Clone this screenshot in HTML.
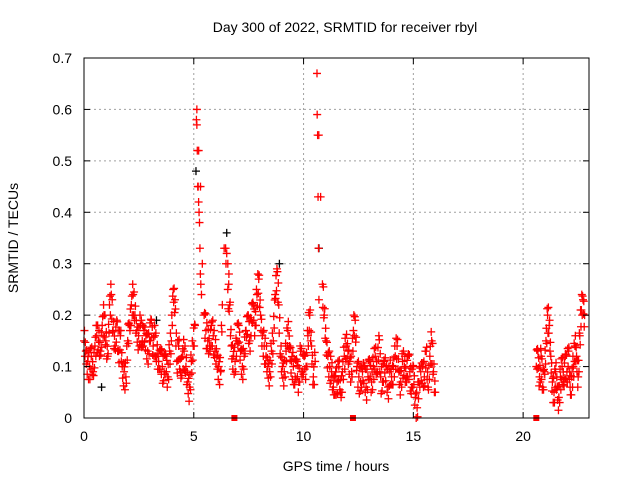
<!DOCTYPE html>
<html><head><meta charset="utf-8"><style>
body{margin:0;background:#fff;font-family:"Liberation Sans",sans-serif}
svg text{font-family:"Liberation Sans",sans-serif;font-size:14px;fill:#000}
</style></head><body>
<svg width="640" height="480">
<text x="345" y="32" text-anchor="middle">Day 300 of 2022, SRMTID for receiver rbyl</text>
<text transform="translate(18,238) rotate(-90)" text-anchor="middle">SRMTID / TECUs</text>
<text x="336" y="471" text-anchor="middle">GPS time / hours</text>
<g id="grid"></g><g id="marks"></g><g id="axes"></g>
</svg>
<script>
const xTicks=[0,5,10,15,20];
const yTicks=[0,0.1,0.2,0.3,0.4,0.5,0.6,0.7];
const seg1Range=[0,16];
const seg1Values=[0.15,0.13,0.11,0.10,0.12,0.09,0.14,
0.16,0.15,0.13,0.18,0.20,0.15,0.12,0.22,0.24,0.17,0.14,0.19,
0.13,0.16,0.10,0.09,0.08,0.15,0.18,0.22,0.24,0.20,0.17,0.16,
0.18,0.15,0.17,0.16,0.13,0.15,0.19,0.14,0.16,0.12,0.11,0.13,
0.10,0.09,0.12,0.08,0.13,0.15,0.25,0.23,0.11,0.14,0.09,0.12,
0.13,0.10,0.07,0.06,0.11,0.14,
0.18,0.60,0.52,0.45,0.30,
0.20,0.17,0.15,0.14,0.18,0.16,0.13,0.12,
0.10,0.09,0.22,0.33,0.30,0.25,0.22,
0.14,0.12,0.11,0.15,0.18,0.13,0.10,0.12,0.17,0.20,0.15,
0.19,0.22,0.18,0.24,0.27,0.20,0.16,0.14,0.12,0.10,0.09,0.13,
0.15,0.24,0.29,0.22,0.12,0.10,0.09,0.13,0.17,0.14,0.11,0.10,
0.08,0.11,0.07,0.13,0.09,0.12,0.10,0.16,0.20,0.14,0.08,0.11,
0.67,0.55,0.43,0.26,0.20,0.15,
0.12,0.10,0.09,0.06,0.08,0.07,0.10,0.05,0.09,0.12,0.14,0.13,
0.11,0.09,0.17,0.19,0.10,0.08,0.07,0.09,0.10,0.06,0.08,0.11,
0.07,0.10,0.12,0.09,0.16,0.08,0.07,0.11,0.10,0.06,0.09,0.08,
0.10,0.12,0.14,0.09,0.07,0.11,0.10,0.08,0.12,0.09,0.06,0.10,
0.04,0.02,0.07,0.09,0.10,0.08,0.13,0.06,0.12,0.15,0.09,0.05];
const seg2Range=[20.6,22.8];
const seg2Values=[0.10,0.13,0.08,0.12,0.06,0.09,0.15,0.20,0.18,0.12,0.07,0.05,0.09,0.06,0.04,0.08,0.10,0.07,0.12,0.09,0.13,0.06,0.08,0.10,0.14,0.12,0.08,0.16,0.21,0.23,0.20];
const spikeTimes=[5.12,5.14,5.16,5.18,5.2,5.22,5.24,5.26,5.28,5.3,5.32,5.35,6.45,6.5,6.55,6.6,10.62,10.64,10.66,10.68,10.7];
const spikeValues=[0.58,0.57,0.52,0.45,0.45,0.42,0.40,0.38,0.33,0.28,0.26,0.24,0.33,0.32,0.30,0.28,0.59,0.55,0.43,0.33,0.23];
const blackTimes=[5.1,6.5,10.7,8.9,3.3,0.8];
const blackValues=[0.48,0.36,0.33,0.30,0.19,0.06];
const gapTimes=[6.85,12.25,20.6];

const L=84,R=589,T=58,B=418,XMAX=23,YMAX=0.7;
const X=t=>L+(R-L)*t/XMAX, Y=v=>B-(B-T)*v/YMAX;
const spread=[0.025,-0.02,0.012,-0.03];
const NS="http://www.w3.org/2000/svg";
const mk=(tag,a,p)=>{const e=document.createElementNS(NS,tag);for(const k in a)e.setAttribute(k,a[k]);p.appendChild(e);return e;};
const grid=document.getElementById('grid'),marks=document.getElementById('marks'),axes=document.getElementById('axes');
xTicks.forEach(t=>{
 if(t>0){const g=mk('line',{x1:X(t),x2:X(t),y1:T,y2:B,stroke:'#a0a0a0','stroke-dasharray':'2,3'},grid);
 
 }
 const l=mk('text',{x:X(t),y:B+23,'text-anchor':'middle'},axes);l.textContent=t;
 
 
 mk('line',{x1:X(t),x2:X(t),y1:B,y2:B-6,stroke:'#000'},axes);
 mk('line',{x1:X(t),x2:X(t),y1:T,y2:T+6,stroke:'#000'},axes);
});
yTicks.forEach(v=>{
 if(v>0&&v<0.7){const g=mk('line',{x1:L,x2:R,y1:Y(v),y2:Y(v),stroke:'#a0a0a0','stroke-dasharray':'2,3'},grid);
 
 }
 const l=mk('text',{x:L-12,y:Y(v)+5,'text-anchor':'end'},axes);l.textContent=v===0?'0':v.toFixed(1);
 
 
 mk('line',{x1:L,x2:L+6,y1:Y(v),y2:Y(v),stroke:'#000'},axes);
 mk('line',{x1:R,x2:R-6,y1:Y(v),y2:Y(v),stroke:'#000'},axes);
});
const fr=mk('rect',{x:L,y:T,width:R-L,height:B-T,fill:'none',stroke:'#000'},axes);


function plus(t,v,c){
 const x=X(t),y=Y(Math.max(0,v));
 const p=mk('path',{d:`M${x-4},${y}H${x+4}M${x},${y-4}V${y+4}`,stroke:c,'stroke-width':1.3,fill:'none'},marks);
 
 
}
function seg(range,vals){
 const n=vals.length;
 vals.forEach((v,i)=>{
  const t=range[0]+(range[1]-range[0])*i/(n-1);
  plus(t,v,'#ff0000');
  if(i<n-1){
   const nx=vals[i+1];
   if(v<0.3&&nx<0.3){
    [0.25,0.5,0.75].forEach((f,k)=>{
     const t2=range[0]+(range[1]-range[0])*(i+f)/(n-1);
     const m=v+(nx-v)*f;
     plus(t2,m+spread[(i+k)%4],'#ff0000');
    });
   }
  }
 });
}
blackTimes.forEach((t,i)=>plus(t,blackValues[i],'#000'));
seg(seg1Range,seg1Values);
seg(seg2Range,seg2Values);
spikeTimes.forEach((t,i)=>plus(t,spikeValues[i],'#ff0000'));
gapTimes.forEach(t=>{
 const r=mk('rect',{x:X(t)-3,y:B-3,width:6,height:6,fill:'#ff0000'},marks);
 
 
});
</script>
</body></html>
